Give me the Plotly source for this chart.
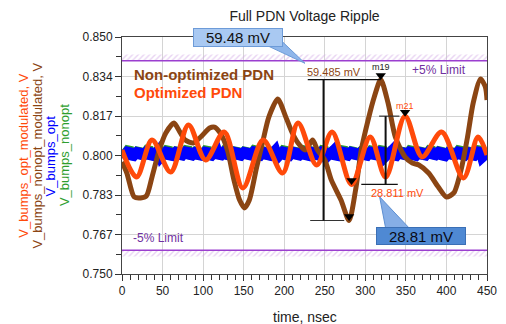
import plotly.graph_objects as go

# ---------------- data ----------------
# nonoptimized PDN, modulated load (V) vs time (ns)
brown_t = [0, 6, 15, 23, 30, 37, 46, 54, 64, 72, 78, 88, 97, 108, 114, 121, 130, 138, 145, 151,
           157, 166, 174, 181, 192, 202, 210, 217, 226, 235, 241, 250, 258, 270, 280, 288, 295,
           304, 311, 319, 328, 337, 349, 358, 366, 378, 390, 400, 409, 418, 426, 433, 442, 448, 450]
brown_v = [0.7973, 0.7926, 0.7825, 0.7821, 0.7829, 0.7909, 0.8023, 0.8095, 0.8137, 0.8095,
           0.8065, 0.8053, 0.8078, 0.8116, 0.8120, 0.8095, 0.8023, 0.7897, 0.7812, 0.7779,
           0.7812, 0.7951, 0.8065, 0.8162, 0.8238, 0.8162, 0.8095, 0.8053, 0.8023, 0.8065,
           0.8023, 0.7981, 0.7897, 0.7812, 0.772565, 0.7855, 0.8023, 0.8158, 0.8247, 0.83205,
           0.8222, 0.8078, 0.7994, 0.7968, 0.7960, 0.7926, 0.7867, 0.7825, 0.7842, 0.7939,
           0.8078, 0.8222, 0.8323, 0.8289, 0.8234]

# optimized PDN, modulated load (V) vs time (ns)
orange_t = [0, 18, 37, 60, 82, 103, 126, 149, 174, 198, 217, 240, 259, 283, 306, 325, 349,
            370, 394, 421, 439, 450]
orange_v = [0.8023, 0.7909, 0.8065, 0.7930, 0.8129, 0.7981, 0.8099, 0.7863, 0.8065, 0.7926,
            0.8137, 0.7960, 0.8099, 0.787789, 0.8078, 0.7909, 0.8166, 0.7994, 0.8099, 0.7905,
            0.8078, 0.8002]

# unmodulated bump voltages (V) vs time (ns)
flat_t = [0, 9, 12, 21, 24, 33, 36, 45, 48, 57, 60, 69, 72, 81, 84, 93, 96, 105, 108, 117,
          120, 129, 132, 141, 144, 153, 156, 165, 168, 177, 180, 189, 192, 201, 204, 213, 216,
          225, 228, 237, 240, 249, 252, 261, 264, 273, 276, 285, 288, 297, 300, 309, 312, 321,
          324, 333, 336, 345, 348, 357, 360, 369, 372, 381, 384, 393, 396, 405, 408, 417, 420,
          429, 432, 441, 444, 450]
blue_v = [0.7990, 0.8026, 0.7988, 0.8024, 0.7991, 0.8027, 0.7989, 0.8023, 0.7992, 0.8026,
          0.7988, 0.8025, 0.7990, 0.8027, 0.7991, 0.8024, 0.7989, 0.8026, 0.7990, 0.8023,
          0.7992, 0.8027, 0.7988, 0.8025, 0.7990, 0.8024, 0.7991, 0.8027, 0.7989, 0.8025,
          0.7990, 0.8023, 0.7992, 0.8026, 0.7988, 0.8025, 0.7991, 0.8027, 0.7989, 0.8024,
          0.7990, 0.8026, 0.7992, 0.8023, 0.7988, 0.8027, 0.7990, 0.8025, 0.7991, 0.8024,
          0.7989, 0.8026, 0.7990, 0.8027, 0.7992, 0.8023, 0.7988, 0.8025, 0.7991, 0.8026,
          0.7989, 0.8024, 0.7990, 0.8027, 0.7992, 0.8025, 0.7988, 0.8023, 0.7991, 0.8026,
          0.7990, 0.8024, 0.7989, 0.8027, 0.7991, 0.8010]
green_v = [0.7990, 0.8034, 0.7988, 0.8028, 0.7991, 0.8035, 0.7989, 0.8027, 0.7992, 0.8034,
           0.7988, 0.8029, 0.7990, 0.8035, 0.7991, 0.8028, 0.7989, 0.8034, 0.7990, 0.8027,
           0.7992, 0.8035, 0.7988, 0.8029, 0.7990, 0.8028, 0.7991, 0.8035, 0.7989, 0.8029,
           0.7990, 0.8027, 0.7992, 0.8034, 0.7988, 0.8029, 0.7991, 0.8035, 0.7989, 0.8028,
           0.7990, 0.8034, 0.7992, 0.8027, 0.7988, 0.8035, 0.7990, 0.8029, 0.7991, 0.8028,
           0.7989, 0.8034, 0.7990, 0.8035, 0.7992, 0.8027, 0.7988, 0.8029, 0.7991, 0.8034,
           0.7989, 0.8028, 0.7990, 0.8035, 0.7992, 0.8029, 0.7988, 0.8027, 0.7991, 0.8034,
           0.7990, 0.8028, 0.7989, 0.8035, 0.7991, 0.8012]

y_tick_text = ["0.750", "0.767", "0.783", "0.800", "0.817", "0.834", "0.850"]
x_tick_vals = [0, 50, 100, 150, 200, 250, 300, 350, 400, 450]

V_NOM = 0.800
UPPER_LIMIT = 0.840   # +5 %
LOWER_LIMIT = 0.760   # -5 %

# marker readings
m19_t, m19_v = 319, 0.83205           # nonopt peak
b_low_t, b_low_v = 280, 0.772565      # nonopt trough
m21_t, m21_v = 349, 0.8166            # opt peak
o_low_t, o_low_v = 283, 0.787789      # opt trough

d_nonopt = round((m19_v - b_low_v) * 1000, 3)
d_opt = round((m21_v - o_low_v) * 1000, 3)

# ---------------- style ----------------
C_BROWN = "#8b4513"
C_ORANGE = "#ff4a0a"
C_BLUE = "#0000ff"
C_GREEN = "#2e9e2e"
C_PURPLE = "#9b3fcf"
C_LIMIT_TXT = "#7030a0"
FONT = "Liberation Sans, Arial, sans-serif"

y_min, y_max = 0.750, 0.850
step = (y_max - y_min) / 6
y_tick_vals = [y_min + i * step for i in range(7)]
y_minor_vals = [y_min + (i + 0.5) * step for i in range(6)]

fig = go.Figure()

# hatched guard bands beyond the limits
band = 0.0026
for y0, y1 in [(UPPER_LIMIT, UPPER_LIMIT + band), (LOWER_LIMIT - band, LOWER_LIMIT)]:
    fig.add_trace(go.Scatter(
        x=[0, 450, 450, 0, 0], y=[y0, y0, y1, y1, y0], mode="lines",
        fill="toself", line=dict(width=0), fillcolor="rgba(0,0,0,0)",
        fillpattern=dict(shape="/", fgcolor="#d2a8e6", bgcolor="rgba(255,255,255,0)",
                         size=4, solidity=0.35),
        hoverinfo="skip", showlegend=False))
for lim in (UPPER_LIMIT, LOWER_LIMIT):
    fig.add_trace(go.Scatter(x=[0, 450], y=[lim, lim], mode="lines",
                             line=dict(color=C_PURPLE, width=1.5),
                             hoverinfo="skip", showlegend=False))

# waveforms
fig.add_trace(go.Scatter(x=flat_t, y=green_v, mode="lines", name="V_bumps_nonopt",
                         line=dict(color=C_GREEN, width=9)))
fig.add_trace(go.Scatter(x=flat_t, y=blue_v, mode="lines", name="V_bumps_opt",
                         line=dict(color=C_BLUE, width=10)))
fig.add_trace(go.Scatter(x=brown_t, y=brown_v, mode="lines", name="V_bumps_nonopt_modulated",
                         line=dict(color=C_BROWN, width=5, shape="spline", smoothing=0.7)))
fig.add_trace(go.Scatter(x=orange_t, y=orange_v, mode="lines", name="V_bumps_opt_modulated",
                         line=dict(color=C_ORANGE, width=5, shape="spline", smoothing=0.9)))

# delta measurement lines
meas = [
    dict(type="line", x0=229, x1=m19_t, y0=m19_v, y1=m19_v, line=dict(color="#111", width=1.2)),
    dict(type="line", x0=232, x1=274, y0=b_low_v, y1=b_low_v, line=dict(color="#333", width=1.2)),
    dict(type="line", x0=248.5, x1=248.5, y0=b_low_v, y1=m19_v, line=dict(color="#111", width=2)),
    dict(type="line", x0=317, x1=342, y0=m21_v, y1=m21_v, line=dict(color="#333", width=1.2)),
    dict(type="line", x0=295, x1=340, y0=o_low_v, y1=o_low_v, line=dict(color="#111", width=1.2)),
    dict(type="line", x0=325, x1=325, y0=o_low_v, y1=m21_v, line=dict(color="#111", width=2)),
]
for s in meas:
    s.update(xref="x", yref="y", layer="above")
    fig.add_shape(**s)

# callout pointers
fig.add_shape(type="path", xref="x", yref="y", layer="above",
              path="M 177.6,0.8466 L 195.6,0.8487 L 225.6,0.8389 Z",
              fillcolor="#8fb6ea", line=dict(color="#6d9bd8", width=1))
fig.add_shape(type="path", xref="x", yref="y", layer="above",
              path="M 325,0.7694 L 354,0.7694 L 317.6,0.7826 Z",
              fillcolor="#86aee6", line=dict(color="#5d8fd2", width=1))

# markers
mk = 0.0017
fig.add_trace(go.Scatter(
    x=[m19_t, b_low_t, m21_t, o_low_t],
    y=[m19_v + mk, b_low_v + mk, m21_v + mk, o_low_v + mk],
    mode="markers", marker=dict(symbol="triangle-down", size=9, color="#000"),
    hoverinfo="skip", showlegend=False))

ann = [
    dict(x=m19_t, y=0.8373, text="m19", font=dict(size=9, color="#222")),
    dict(x=m21_t, y=0.8209, text="m21", font=dict(size=9, color=C_ORANGE)),
    dict(x=261.6, y=0.8352, text=f"{d_nonopt:.3f} mV", font=dict(size=11, color=C_BROWN)),
    dict(x=339.6, y=0.7842, text=f"{d_opt:.3f} mV", font=dict(size=11, color=C_ORANGE)),
    dict(x=12, y=0.8340, text="<b>Non-optimized PDN</b>", xanchor="left",
         font=dict(size=15, color=C_BROWN)),
    dict(x=12, y=0.8264, text="<b>Optimized PDN</b>", xanchor="left",
         font=dict(size=15, color=C_ORANGE)),
    dict(x=355, y=0.8361, text="+5% Limit", xanchor="left", font=dict(size=12, color=C_LIMIT_TXT)),
    dict(x=10.8, y=0.7652, text="-5% Limit", xanchor="left", font=dict(size=12, color=C_LIMIT_TXT)),
    dict(x=142.8, y=0.8500, text=f"{d_nonopt:.2f} mV", width=86, height=15,
         bgcolor="#a9c9f2", bordercolor="#6d9bd8", borderwidth=1, borderpad=1,
         font=dict(size=15, color="#111")),
    dict(x=369, y=0.7662, text=f"{d_opt:.2f} mV", width=86, height=14,
         bgcolor="#4f89d3", bordercolor="#3b6fb5", borderwidth=1, borderpad=1,
         font=dict(size=15, color="#0a0a14")),
]
for a in ann:
    a.setdefault("xanchor", "center")
    a.update(xref="x", yref="y", yanchor="middle", showarrow=False)
    a["font"]["family"] = FONT
    fig.add_annotation(**a)

# stacked, coloured y-axis titles
ylabels = [("V_bumps_opt_modulated, V", C_ORANGE, -0.2707),
           ("V_bumps_nonopt_modulated, V", C_BROWN, -0.2327),
           ("V_bumps_opt", C_BLUE, -0.1947),
           ("V_bumps_nonopt", C_GREEN, -0.1573)]
for txt, col, xp in ylabels:
    fig.add_annotation(x=xp, y=V_NOM, xref="paper", yref="y", text=txt, textangle=-90,
                       showarrow=False, xanchor="center", yanchor="middle",
                       font=dict(family=FONT, size=13, color=col))

fig.add_annotation(x=0.5, y=-0.181, xref="paper", yref="paper", text="time, nsec",
                   showarrow=False, xanchor="center", yanchor="middle",
                   font=dict(family=FONT, size=14, color="#222"))

fig.update_layout(
    width=506, height=324,
    margin=dict(l=122, r=9, t=37, b=50),
    paper_bgcolor="white", plot_bgcolor="white",
    showlegend=False,
    font=dict(family=FONT, size=12, color="#222"),
    title=dict(text="Full PDN Voltage Ripple", x=0.5, xref="paper", xanchor="center",
               y=1 - 16 / 324, yref="container", yanchor="middle",
               font=dict(family=FONT, size=14, color="#222")),
)
fig.update_xaxes(range=[0, 450], tickmode="array", tickvals=x_tick_vals,
                 ticks="outside", ticklen=6, tickcolor="#333", ticklabeloverflow="allow",
                 showline=True, linecolor="#444", linewidth=1, mirror=True,
                 showgrid=True, gridcolor="#d4d4d4", gridwidth=1, zeroline=False,
                 minor=dict(dtick=10, tick0=0, ticks="outside", ticklen=5,
                            tickcolor="#333", showgrid=False),
                 tickfont=dict(family=FONT, size=12, color="#222"))
fig.update_yaxes(range=[y_min, y_max], tickmode="array", tickvals=y_tick_vals,
                 ticktext=y_tick_text, ticks="outside", ticklen=6, tickcolor="#333",
                 showline=True, linecolor="#444", linewidth=1, mirror=True,
                 showgrid=True, gridcolor="#d4d4d4", gridwidth=1, zeroline=False,
                 minor=dict(tickmode="array", tickvals=y_minor_vals, ticks="outside",
                            ticklen=5, tickcolor="#333", showgrid=False),
                 tickfont=dict(family=FONT, size=12, color="#222"))

fig.write_html("out.html")
